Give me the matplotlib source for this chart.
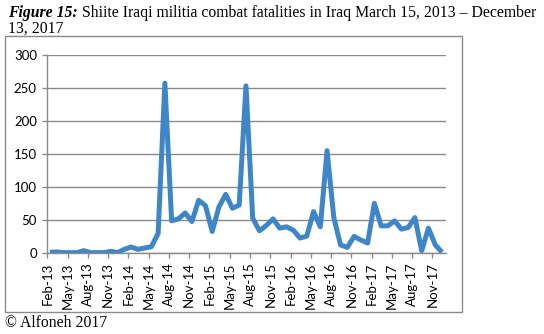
import matplotlib
matplotlib.use("Agg")
import matplotlib.pyplot as plt
from matplotlib.patches import Rectangle

# Monthly fatalities, Feb-13 .. Dec-17 (59 months)
months = ["Feb-13", "Mar-13", "Apr-13", "May-13", "Jun-13", "Jul-13", "Aug-13", "Sep-13", "Oct-13", "Nov-13", "Dec-13",
          "Jan-14", "Feb-14", "Mar-14", "Apr-14", "May-14", "Jun-14", "Jul-14", "Aug-14", "Sep-14", "Oct-14", "Nov-14", "Dec-14",
          "Jan-15", "Feb-15", "Mar-15", "Apr-15", "May-15", "Jun-15", "Jul-15", "Aug-15", "Sep-15", "Oct-15", "Nov-15", "Dec-15",
          "Jan-16", "Feb-16", "Mar-16", "Apr-16", "May-16", "Jun-16", "Jul-16", "Aug-16", "Sep-16", "Oct-16", "Nov-16", "Dec-16",
          "Jan-17", "Feb-17", "Mar-17", "Apr-17", "May-17", "Jun-17", "Jul-17", "Aug-17", "Sep-17", "Oct-17", "Nov-17", "Dec-17"]
fatalities = [1.5, 2, 1, 1, 1, 4, 1, 1, 1, 3, 1,
              6, 9.5, 6, 8, 10, 30, 257, 49, 52, 61, 48, 80,
              72, 33, 70, 89, 68, 73, 253, 53, 34, 42, 52, 38,
              40, 35, 23, 26, 63, 40, 155, 54, 12.5, 9, 25.5, 20,
              15.5, 75.5, 41.5, 41.5, 49, 36.5, 39, 54, 4, 38, 13, 1.5]
tick_labels = ["Feb-13", "May-13", "Aug-13", "Nov-13", "Feb-14", "May-14", "Aug-14", "Nov-14",
               "Feb-15", "May-15", "Aug-15", "Nov-15", "Feb-16", "May-16", "Aug-16", "Nov-16",
               "Feb-17", "May-17", "Aug-17", "Nov-17"]
y_ticks = [0, 50, 100, 150, 200, 250, 300]

W, H = 544, 334
fig = plt.figure(figsize=(W / 100, H / 100), dpi=100)
fig.patch.set_facecolor("white")

# outer chart frame
fig.patches.append(Rectangle((5 / W, 1 - 312 / H), 457 / W, 276 / H, transform=fig.transFigure,
                             fill=False, edgecolor="#8a8a8a", linewidth=1.0))

ax = fig.add_axes([47.3 / W, 1 - 253.3 / H, (446 - 47.3) / W, (253.3 - 54.7) / H])
xs = [i + 0.4 for i in range(len(fatalities))]
ax.plot(xs, fatalities, color="#3f86c8", linewidth=3.6, solid_joinstyle="round", solid_capstyle="butt")

ax.set_xlim(0, 59)
ax.set_ylim(0, 300)
ax.set_yticks(y_ticks)
ax.set_yticklabels([str(v) for v in y_ticks])
ax.set_xticks([months.index(t) for t in tick_labels])
ax.set_xticklabels(tick_labels, rotation=90)

ax.grid(axis="y", color="#8a8a8a", linewidth=1.0)
ax.set_axisbelow(True)
for s in ["top", "right"]:
    ax.spines[s].set_visible(False)
for s in ["left", "bottom"]:
    ax.spines[s].set_color("#8a8a8a")
    ax.spines[s].set_linewidth(1.0)
ax.tick_params(axis="both", color="#8a8a8a", length=3.5, width=1.0, labelsize=9.5, pad=4)
ax.tick_params(axis="x", pad=3)
for lab in ax.get_xticklabels() + ax.get_yticklabels():
    lab.set_fontfamily("Lato")
    lab.set_color("black")

# title
serif = "Liberation Serif"
fs = 11.3
t1 = fig.text(8 / W, 1 - 17 / H, "Figure 15:", fontsize=fs, fontweight="bold", fontstyle="italic",
              family=serif, ha="left", va="baseline")
fig.canvas.draw()
bb = t1.get_window_extent()
fig.text((bb.x1 + 4) / W, 1 - 17 / H, "Shiite Iraqi militia combat fatalities in Iraq March 15, 2013 \u2013 December",
         fontsize=fs, family=serif, ha="left", va="baseline")
fig.text(8 / W, 1 - 33 / H, "13, 2017", fontsize=fs, family=serif, ha="left", va="baseline")
fig.text(5 / W, 1 - 327 / H, "\u00a9 Alfoneh 2017", fontsize=fs, family=serif, ha="left", va="baseline")

fig.savefig("out.png", dpi=100, facecolor="white")
